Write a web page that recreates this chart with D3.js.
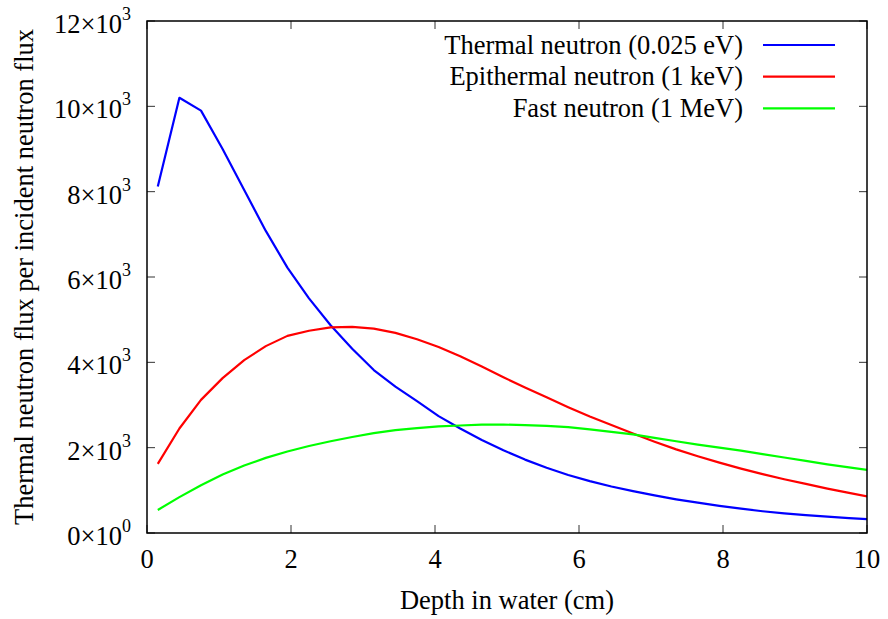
<!DOCTYPE html>
<html><head><meta charset="utf-8">
<script src="https://cdn.jsdelivr.net/npm/d3@7"></script>
<style>body{margin:0;background:#fff}svg{display:block}text{font-family:"Liberation Serif","DejaVu Serif",serif;fill:#000}</style>
</head><body><svg id="c" width="888" height="619"></svg>
<script>
const depth = [0.15,0.45,0.75,1.05,1.35,1.65,1.95,2.25,2.55,2.85,3.15,3.45,3.75,4.05,4.35,4.65,4.95,5.25,5.55,5.85,6.15,6.45,6.75,7.05,7.35,7.65,7.95,8.25,8.55,8.85,9.15,9.45,9.75,10.05];
const thermal = [8120,10200,9900,9000,8040,7080,6220,5500,4870,4320,3820,3430,3090,2740,2450,2180,1940,1720,1530,1360,1215,1090,980,880,790,710,635,570,510,460,420,385,350,320];
const epithermal = [1620,2450,3120,3630,4050,4380,4620,4740,4820,4830,4790,4690,4540,4360,4140,3900,3650,3410,3180,2950,2730,2530,2330,2140,1960,1800,1650,1510,1380,1260,1150,1040,940,840];
const fast = [540,840,1120,1370,1580,1760,1910,2040,2150,2250,2340,2410,2460,2500,2520,2540,2540,2530,2510,2480,2430,2370,2310,2230,2150,2070,2000,1930,1850,1770,1690,1610,1540,1470];
const seriesNames = ["Thermal neutron (0.025 eV)","Epithermal neutron (1 keV)","Fast neutron (1 MeV)"];
const seriesColors = ["#0000ff","#ff0000","#00ff00"];
const xTicks = [0,2,4,6,8,10];
const yTicks = [0,2000,4000,6000,8000,10000,12000];
const xLabel = "Depth in water (cm)";
const yLabel = "Thermal neutron flux per incident neutron flux";

const svg = d3.select("#c");
const L=147,R=867,T=21,B=533;
const x = d3.scaleLinear().domain([0,10]).range([L,R]);
const y = d3.scaleLinear().domain([0,12000]).range([B,T]);
const FS=26.5;

svg.append("defs").append("clipPath").attr("id","clip").append("rect")
  .attr("x",L).attr("y",T).attr("width",R-L).attr("height",B-T);

const tk=8;
const g=svg.append("g").attr("stroke","#333").attr("stroke-width",1);
xTicks.forEach(v=>{
  g.append("line").attr("x1",x(v)).attr("x2",x(v)).attr("y1",B).attr("y2",B-tk);
  g.append("line").attr("x1",x(v)).attr("x2",x(v)).attr("y1",T).attr("y2",T+tk);
});
yTicks.forEach(v=>{
  g.append("line").attr("x1",L).attr("x2",L+tk).attr("y1",y(v)).attr("y2",y(v));
  g.append("line").attr("x1",R).attr("x2",R-tk).attr("y1",y(v)).attr("y2",y(v));
});

xTicks.forEach(v=>{
  svg.append("text").attr("x",x(v)).attr("y",B+35).attr("text-anchor","middle")
    .attr("font-size",FS).text(v);
});
yTicks.forEach(v=>{
  const e = v===0?0:3;
  const m = v===0?0:v/1000;
  const t=svg.append("text").attr("x",131).attr("y",y(v)+12).attr("text-anchor","end").attr("font-size",FS);
  t.append("tspan").text(m+"×10");
  t.append("tspan").attr("dy",-13).attr("font-size",18).text(e);
});

const data=[thermal,epithermal,fast];
const line=d3.line().x((d,i)=>x(depth[i])).y(d=>y(d));
const lg=svg.append("g").attr("clip-path","url(#clip)");
data.forEach((s,k)=>{
  lg.append("path").datum(s).attr("d",line).attr("fill","none")
    .attr("stroke",seriesColors[k]).attr("stroke-width",2.2).attr("stroke-linejoin","round");
});

svg.append("rect").attr("x",L).attr("y",T).attr("width",R-L).attr("height",B-T)
  .attr("fill","none").attr("stroke","#000").attr("stroke-width",1.5);

seriesNames.forEach((n,k)=>{
  const yy=45+k*31.7;
  svg.append("text").attr("x",743).attr("y",yy+8.5).attr("text-anchor","end").attr("font-size",FS).text(n);
  svg.append("line").attr("x1",763).attr("x2",835).attr("y1",yy).attr("y2",yy)
    .attr("stroke",seriesColors[k]).attr("stroke-width",2.2);
});

svg.append("text").attr("x",(L+R)/2).attr("y",609).attr("text-anchor","middle").attr("font-size",FS).text(xLabel);
svg.append("text").attr("transform",`translate(33,${(T+B)/2}) rotate(-90)`).attr("text-anchor","middle").attr("font-size",FS).text(yLabel);
</script></body></html>
